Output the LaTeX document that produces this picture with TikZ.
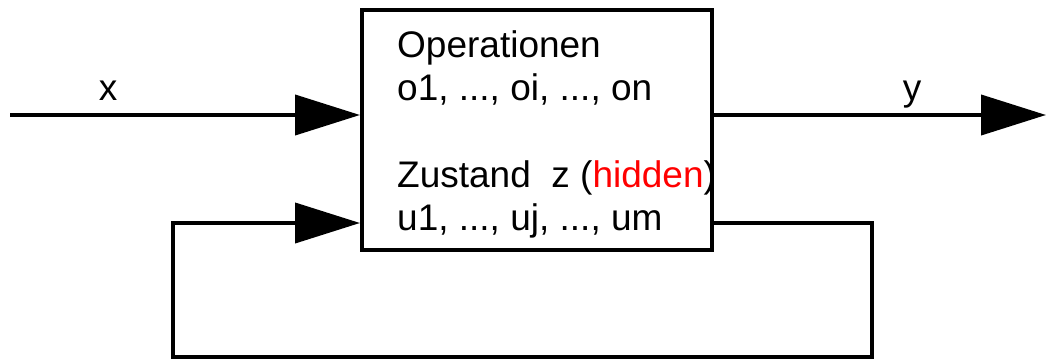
\documentclass[tikz,border=0pt]{standalone}
\usepackage{fontspec}
\setmainfont{Liberation Sans}
\usetikzlibrary{arrows.meta}
\tikzset{
  wire/.style={line width=4pt, line join=miter},
  tip/.style={-{Triangle[length=65pt,width=40pt]}},
  lbl/.style={font=\fontsize{37}{43}\selectfont, inner sep=0pt, anchor=base west},
}
\begin{document}
\begin{tikzpicture}[x=1pt,y=-1pt]
\useasboundingbox (0,0) rectangle (1046,361);
\node[draw, line width=4pt, minimum width=350pt, minimum height=240pt, inner sep=0pt] (box) at (537,130) {};
\node[lbl] (l1) at (397,57) {Operationen};
\node[lbl] (l2) at (397,100) {o1, ..., oi, ..., on};
\node[lbl] (l3) at (397,187) {Zustand\ \ z (\textcolor{red}{hidden})};
\node[lbl] (l4) at (397,230) {u1, ..., uj, ..., um};
\node[lbl, anchor=base] (xl) at (108,100) {x};
\node[lbl, anchor=base] (yl) at (912,100) {y};
\coordinate (in0) at (10,115);
\coordinate (out1) at (1046,115);
\coordinate (fb) at (712,223);
\coordinate (c1) at (872,223);
\coordinate (c2) at (872,357);
\coordinate (c3) at (173,357);
\coordinate (c4) at (173,223);
\draw[wire, tip] (in0) -- (in0 -| box.west);
\draw[wire, tip] (box.east |- out1) -- (out1);
\draw[wire, tip] (box.east |- fb) -- (c1) -- (c2) -- (c3) -- (c4) -- (c4 -| box.west);
\end{tikzpicture}
\end{document}
